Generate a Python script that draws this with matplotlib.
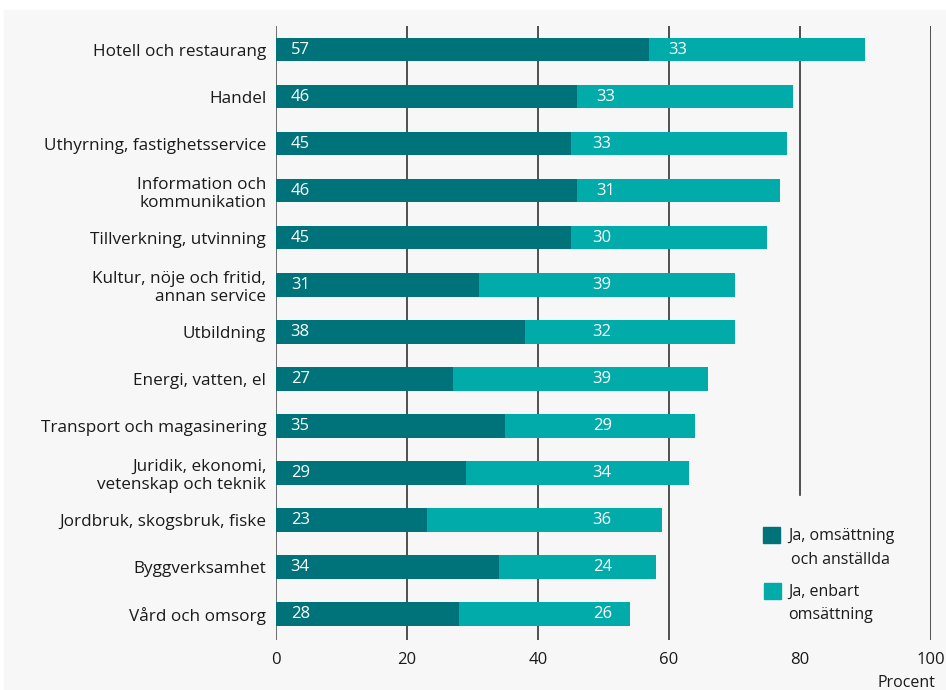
import matplotlib.pyplot as plt
from matplotlib.patches import Rectangle

plt.rcParams['font.family'] = ['Open Sans', 'DejaVu Sans']

# Andel företag per bransch (procent)
branscher = ['Hotell och restaurang', 'Handel', 'Uthyrning, fastighetsservice',
             'Information och\nkommunikation', 'Tillverkning, utvinning',
             'Kultur, nöje och fritid,\nannan service', 'Utbildning',
             'Energi, vatten, el', 'Transport och magasinering',
             'Juridik, ekonomi,\nvetenskap och teknik',
             'Jordbruk, skogsbruk, fiske', 'Byggverksamhet', 'Vård och omsorg']
oms_anst = [57, 46, 45, 46, 45, 31, 38, 27, 35, 29, 23, 34, 28]
enbart_oms = [33, 33, 33, 31, 30, 39, 32, 39, 29, 34, 36, 24, 26]
xticks = [0, 20, 40, 60, 80, 100]

DARK = '#00737a'
LIGHT = '#00abaa'
BG = '#f7f7f7'
TXT = '#1a1a1a'

fig = plt.figure(figsize=(9.46, 6.9), dpi=100)
fig.patches.append(Rectangle((4 / 946, 0), 1, 680 / 690, transform=fig.transFigure,
                             color=BG, zorder=-10))
ax = fig.add_axes([276 / 946, 50 / 690, 655 / 946, 614 / 690])
ax.set_facecolor('none')

ypos = list(range(len(branscher)))
ax.barh(ypos, oms_anst, height=0.49, color=DARK, zorder=2)
ax.barh(ypos, enbart_oms, left=oms_anst, height=0.49, color=LIGHT, zorder=2)

for y, a, b in zip(ypos, oms_anst, enbart_oms):
    ax.text(3.7, y, str(a), color='white', fontsize=12, ha='center', va='center', zorder=3)
    ax.text(max(a + 4.4, 49.8), y, str(b), color='white', fontsize=12,
            ha='center', va='center', zorder=3)

# vertikala linjer; linjen vid 80 slutar ovanför förklaringen
for x in xticks:
    ymin = 0.236 if x == 80 else 0
    ax.axvline(x, ymin=ymin, ymax=1, color='#555555' if x == 0 else '#333333',
               lw=1.2, zorder=1)

ax.set_xlim(0, 100)
ax.set_ylim(12.553, -0.51)
ax.set_yticks(ypos)
ax.set_yticklabels(branscher, fontsize=12.3, color=TXT, linespacing=1.2)
ax.set_xticks(xticks)
ax.set_xticklabels([str(x) for x in xticks], fontsize=12, color=TXT)
ax.tick_params(axis='y', length=0, pad=7)
ax.tick_params(axis='x', length=0, pad=9)
for s in ax.spines.values():
    s.set_visible(False)

fig.text(935 / 946, 1 - 683 / 690, 'Procent', fontsize=11.5, color=TXT,
         ha='right', va='center')

# förklaring
def px(x, y):
    return x / 946, 1 - y / 690

for (x0, y0), col in [((763, 543), DARK), ((764, 599), LIGHT)]:
    fig.patches.append(Rectangle(px(x0, y0), 17 / 946, 16 / 690,
                                 transform=fig.transFigure, color=col, zorder=3))
fig.text(*px(788, 536), 'Ja, omsättning', fontsize=11.5, color=TXT, va='center')
fig.text(*px(791, 560), 'och anställda', fontsize=11.5, color=TXT, va='center')
fig.text(*px(788, 592), 'Ja, enbart', fontsize=11.5, color=TXT, va='center')
fig.text(*px(788, 615), 'omsättning', fontsize=11.5, color=TXT, va='center')

fig.savefig('out.png', dpi=100)
